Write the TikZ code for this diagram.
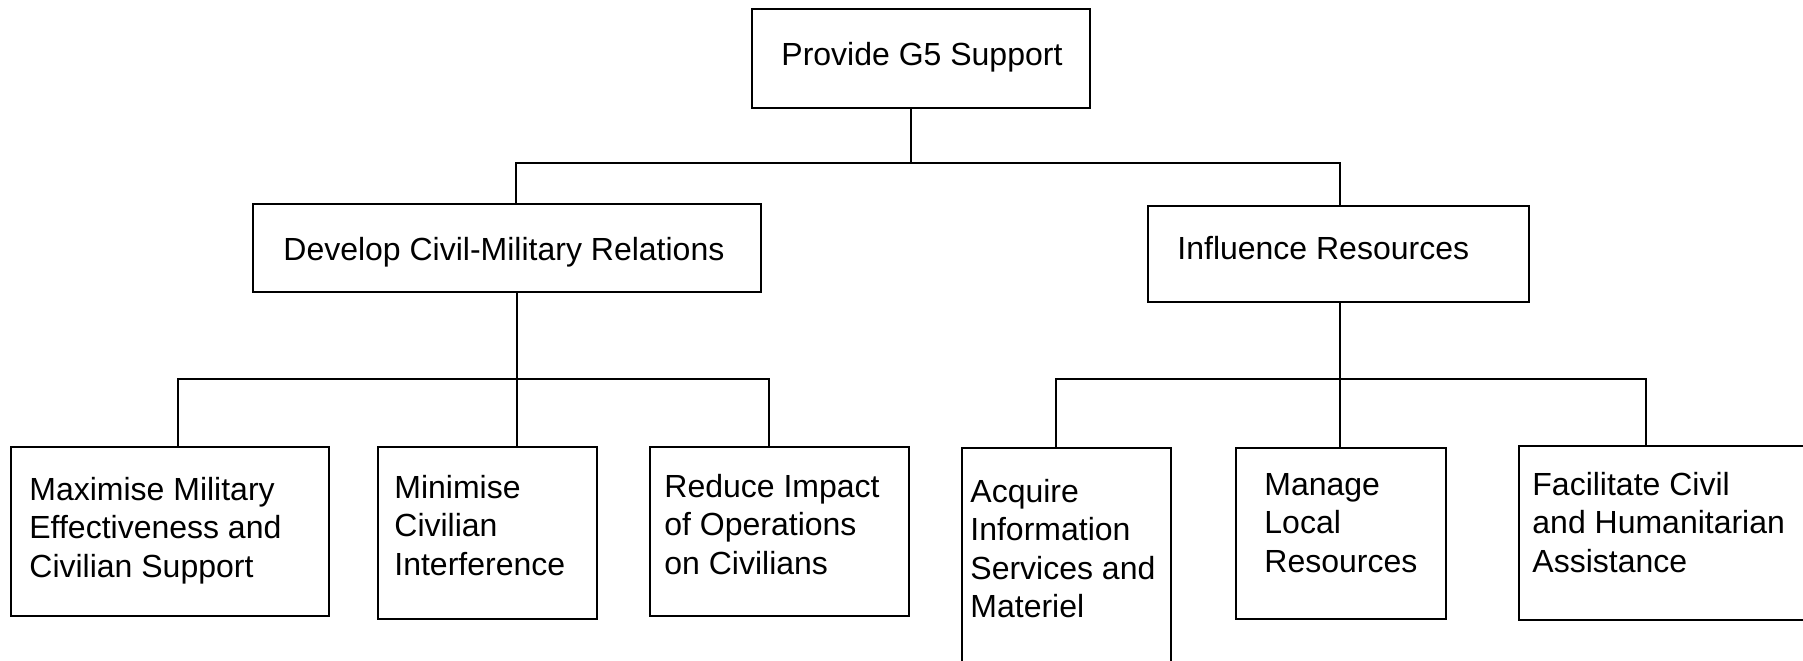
\documentclass[tikz,border=0pt]{standalone}
\usepackage{fontspec}
\setmainfont{Liberation Sans}
\usetikzlibrary{calc}
\begin{document}
\begin{tikzpicture}[x=0.5pt,y=-0.5pt,
  box/.style={draw,line width=1.4pt,inner sep=0pt,outer sep=0pt},
  lbl/.style={anchor=base west,inner sep=0pt,align=left,
              font=\fontsize{16pt}{19.25pt}\selectfont},
  link/.style={line width=1.1pt}]
\useasboundingbox (0,0) rectangle (1803,660);
\clip (0,0) rectangle (1803,660);

% ---- boxes ----
\node[box,minimum width=169pt,minimum height=49.5pt] (top) at (921,58.5) {};
\node[box,minimum width=254pt,minimum height=44pt]   (dev) at (507,248) {};
\node[box,minimum width=190.5pt,minimum height=48pt] (inf) at (1338.5,254) {};
\node[box,minimum width=159pt,minimum height=84.5pt] (max) at (170,531.5) {};
\node[box,minimum width=109.5pt,minimum height=86pt] (min) at (487.5,533) {};
\node[box,minimum width=129.5pt,minimum height=84.5pt] (red) at (779.5,531.5) {};
\node[box,minimum width=104.5pt,minimum height=126pt] (acq) at (1066.5,574) {};
\node[box,minimum width=105pt,minimum height=85.5pt] (man) at (1341,533.5) {};
\node[box,minimum width=155.5pt,minimum height=87pt] (fac) at (1674.5,533) {};

% ---- texts (anchored at the baseline of the last line) ----
\node[lbl] (topT) at (781,65)  {Provide G5 Support};
\node[lbl] (devT) at (283,260) {Develop Civil-Military Relations};
\node[lbl] (infT) at (1177,259) {Influence Resources};
\node[lbl] (maxT) at (29,577)  {Maximise Military\\Effectiveness and\\Civilian Support};
\node[lbl] (minT) at (394,575) {Minimise\\Civilian\\Interference};
\node[lbl] (redT) at (664,574) {Reduce Impact\\of Operations\\on Civilians};
\node[lbl] (acqT) at (970,617.5) {Acquire\\Information\\Services and\\Materiel};
\node[lbl] (manT) at (1264,572) {Manage\\Local\\Resources};
\node[lbl] (facT) at (1532,572) {Facilitate Civil\\and Humanitarian\\Assistance};

% ---- bus junctions ----
\coordinate (j0) at (911,163);
\coordinate (jL) at (516,163);
\coordinate (jR) at (1340,163);
\coordinate (k0) at (517,379);
\coordinate (kL) at (178,379);
\coordinate (kR) at (769,379);
\coordinate (m0) at (1340,379);
\coordinate (mL) at (1056,379);
\coordinate (mR) at (1646,379);

% ---- connectors ----
\draw[link] (top.south -| j0) -- (j0);
\draw[link] (dev.north -| jL) |- (j0) -| (inf.north -| jR);

\draw[link] (dev.south -| k0) -- (min.north -| k0);
\draw[link] (max.north -| kL) |- (kR) -- (red.north -| kR);

\draw[link] (inf.south -| m0) -- (man.north -| m0);
\draw[link] (acq.north -| mL) |- (mR) -- (fac.north -| mR);
\end{tikzpicture}
\end{document}
